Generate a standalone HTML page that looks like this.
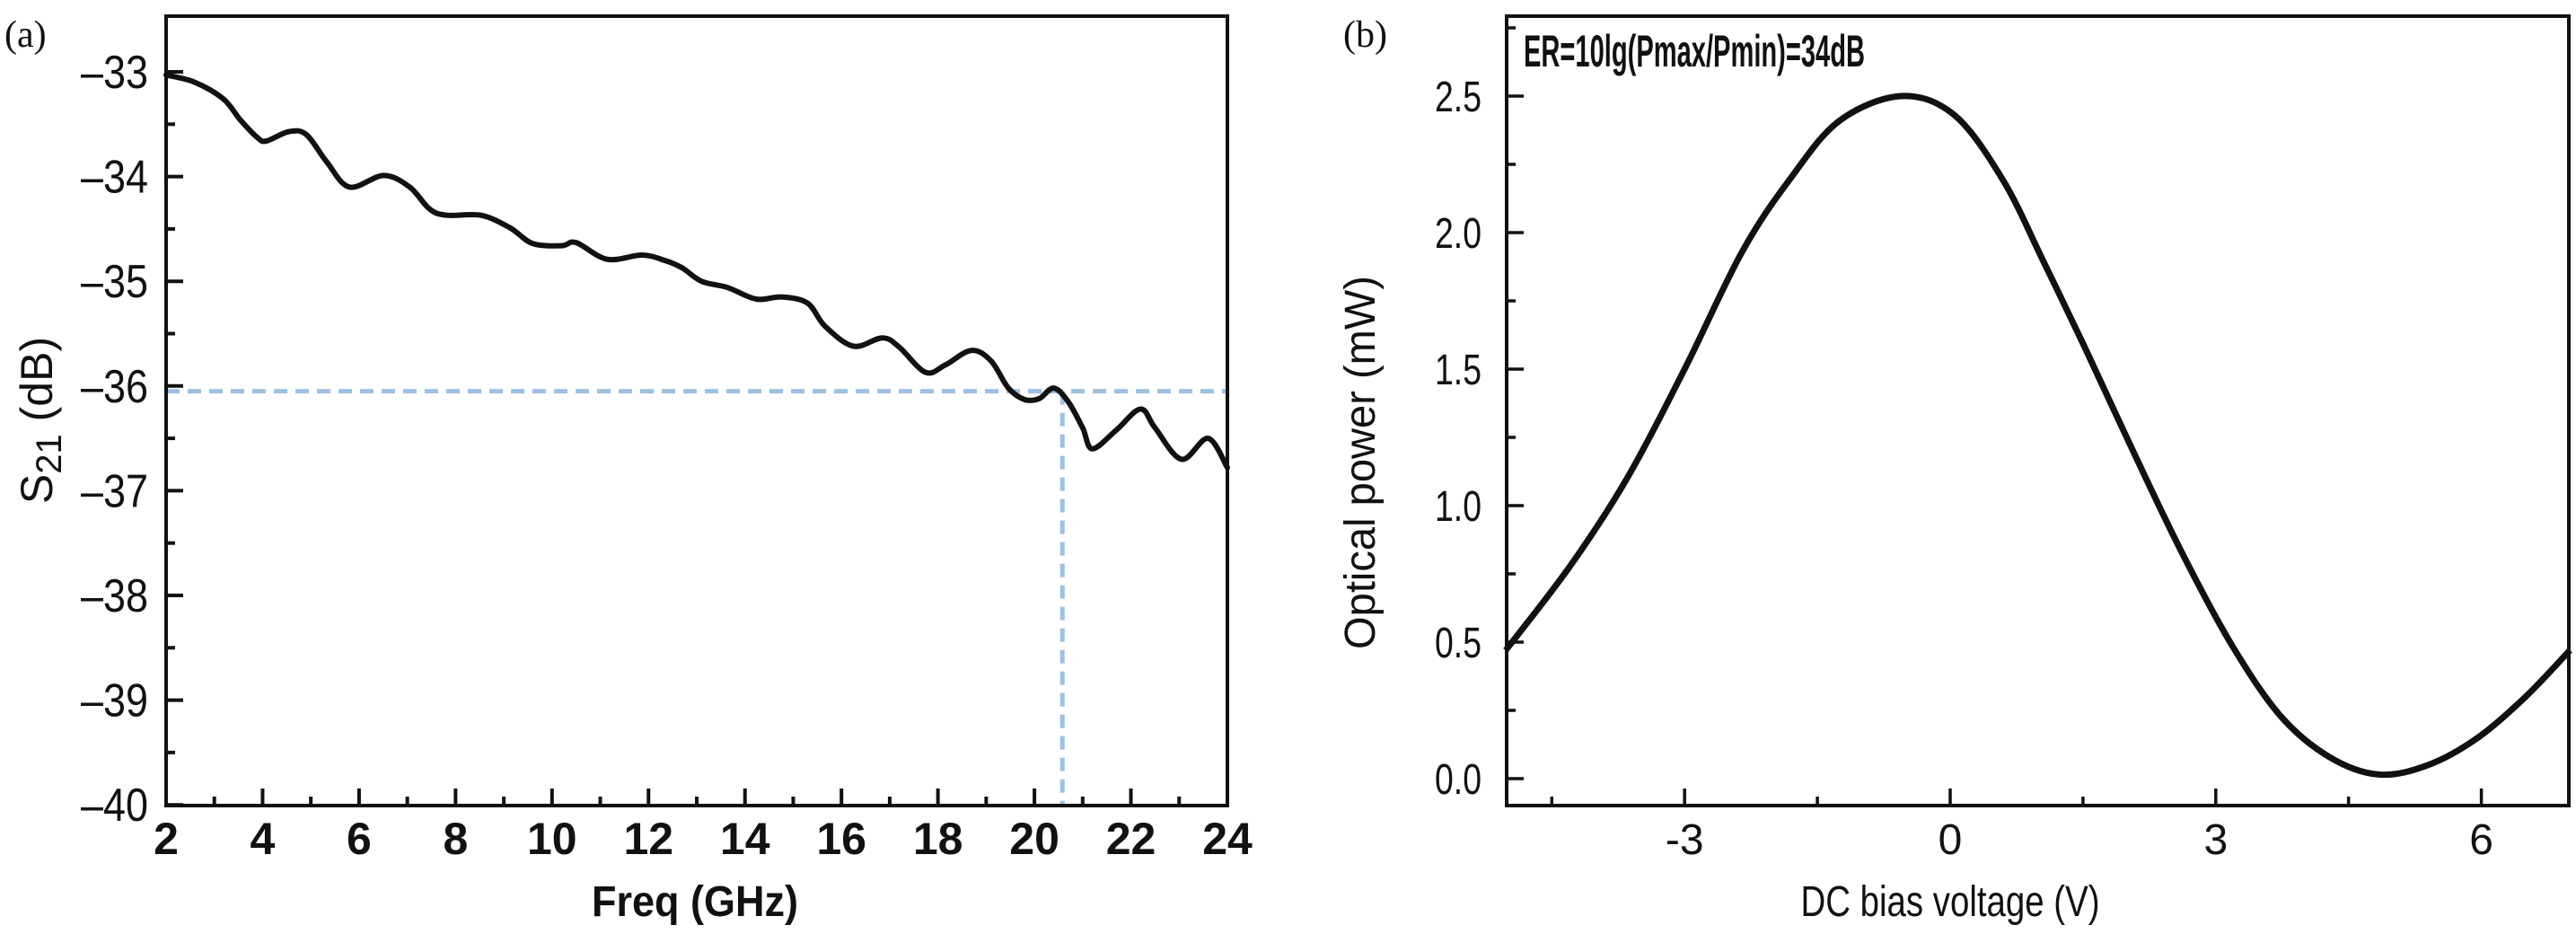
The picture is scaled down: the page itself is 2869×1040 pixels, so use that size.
<!DOCTYPE html>
<html><head><meta charset="utf-8"><style>
html,body{margin:0;padding:0;background:#fff;}
svg{display:block;}
text{font-family:"Liberation Sans",sans-serif;fill:#111;}
</style></head><body>
<svg id="fig" width="2869" height="1040" viewBox="0 0 2869 1040" xmlns="http://www.w3.org/2000/svg">
<text x="5" y="52" style="font-family:'Liberation Serif',serif;font-size:42px">(a)</text>
<text x="1496" y="52" style="font-family:'Liberation Serif',serif;font-size:42px">(b)</text>
<g id="pa"></g>
<g id="pb"></g>
</svg>
<script>
// Panel (a) data
const freqA = [2.0,2.6,3.19,3.54,3.9,4.08,4.55,4.91,5.33,5.8,6.51,7.05,7.46,7.82,8.53,9.13,9.6,10.2,10.5,11.14,11.86,12.33,12.69,13.1,13.64,14.23,14.77,15.3,15.66,16.25,16.85,17.2,17.74,18.15,18.69,19.1,19.46,19.8,20.1,20.4,20.7,21.0,21.2,21.7,22.2,22.5,23.05,23.6,24.0];
const s21A  = [-33.03,-33.1,-33.26,-33.46,-33.63,-33.66,-33.57,-33.6,-33.86,-34.1,-33.99,-34.1,-34.31,-34.37,-34.37,-34.49,-34.64,-34.66,-34.63,-34.79,-34.75,-34.8,-34.87,-35.0,-35.06,-35.17,-35.15,-35.21,-35.43,-35.62,-35.54,-35.63,-35.87,-35.8,-35.66,-35.76,-36.02,-36.13,-36.12,-36.02,-36.15,-36.4,-36.6,-36.42,-36.22,-36.4,-36.7,-36.5,-36.78];
const xTicksA = [2,4,6,8,10,12,14,16,18,20,22,24];
const yTicksA = [-33,-34,-35,-36,-37,-38,-39,-40];
const refLevelA = [-36.05];
const refFreqA = [20.58];
// Panel (b) data
const voltB = [-5.02,-4.29,-3.65,-3.0,-2.35,-1.8,-1.25,-0.55,0.05,0.6,1.06,1.52,2.08,2.63,3.18,3.73,4.28,4.84,5.4,5.96,6.5,7.0];
const powB  = [0.47,0.78,1.1,1.5,1.93,2.2,2.41,2.5,2.43,2.19,1.89,1.58,1.19,0.82,0.49,0.23,0.08,0.015,0.05,0.15,0.3,0.47];
const xTicksB = [-3,0,3,6];
const yTicksB = [0.0,0.5,1.0,1.5,2.0,2.5];

const NS="http://www.w3.org/2000/svg";
function mk(parent,tag,attrs,txt){const e=document.createElementNS(NS,tag);for(const k in attrs)e.setAttribute(k,attrs[k]);if(txt!==undefined)e.textContent=txt;parent.appendChild(e);return e;}
function smooth(P){let d='M'+P[0][0].toFixed(1)+','+P[0][1].toFixed(1);
 for(let i=0;i<P.length-1;i++){const p0=P[Math.max(0,i-1)],p1=P[i],p2=P[i+1],p3=P[Math.min(P.length-1,i+2)];
  const c1=[p1[0]+(p2[0]-p0[0])/6,p1[1]+(p2[1]-p0[1])/6],c2=[p2[0]-(p3[0]-p1[0])/6,p2[1]-(p3[1]-p1[1])/6];
  d+=' C'+c1[0].toFixed(1)+','+c1[1].toFixed(1)+' '+c2[0].toFixed(1)+','+c2[1].toFixed(1)+' '+p2[0].toFixed(1)+','+p2[1].toFixed(1);}
 return d;}

// ---- Panel A ----
const pa=document.getElementById('pa');
const A={l:185,r:1367,t:18,b:897};
const xa=v=>A.l+(v-2)/22*(A.r-A.l);
const ya=v=>80+(-33-v)*116.6;
for(let v=2;v<=24;v+=1){const maj=(v%2===0);
 const t=mk(pa,'line',{x1:xa(v),x2:xa(v),y1:A.b,y2:A.b-(maj?19:10),stroke:'#111','stroke-width':4});
 }
for(let v=-40;v<=-33;v+=0.5){const maj=Number.isInteger(v);
 const t=mk(pa,'line',{x1:A.l,x2:A.l+(maj?19:10),y1:ya(v),y2:ya(v),stroke:'#111','stroke-width':4});
 }
xTicksA.forEach(v=>{const t=mk(pa,'text',{x:xa(v),y:951,'text-anchor':'middle','font-size':50,'font-weight':'bold'},String(v));
 });
yTicksA.forEach(v=>{const t=mk(pa,'text',{x:165,y:ya(v)+18,'text-anchor':'end','font-size':52,textLength:75,lengthAdjust:'spacingAndGlyphs'},String(v).replace('-','\u2013'));
 });
let d1=mk(pa,'line',{x1:A.l,x2:A.r,y1:ya(refLevelA[0]),y2:ya(refLevelA[0]),stroke:'#9ec0e2','stroke-width':5,'stroke-dasharray':'15 9'});

let d2=mk(pa,'line',{x1:xa(refFreqA[0]),x2:xa(refFreqA[0]),y1:ya(refLevelA[0]),y2:A.b,stroke:'#9ec0e2','stroke-width':5,'stroke-dasharray':'15 9'});

let cA=mk(pa,'path',{d:smooth(freqA.map((f,i)=>[xa(f),ya(s21A[i])])),fill:'none',stroke:'#111','stroke-width':6,'stroke-linejoin':'round','stroke-linecap':'round'});

let fa=mk(pa,'rect',{x:A.l,y:A.t,width:A.r-A.l,height:A.b-A.t,fill:'none',stroke:'#111','stroke-width':4});

let xtA=mk(pa,'text',{x:774,y:1020,'text-anchor':'middle','font-size':48,'font-weight':'bold',textLength:230,lengthAdjust:'spacingAndGlyphs'},'Freq (GHz)');

let ytA=mk(pa,'text',{transform:'translate(58,468) rotate(-90)','text-anchor':'middle','font-size':50});

mk(ytA,'tspan',{},'S');mk(ytA,'tspan',{dy:10,'font-size':40},'21');mk(ytA,'tspan',{dy:-10},' (dB)');

// ---- Panel B ----
const pb=document.getElementById('pb');
const B={l:1678,r:2861,t:18,b:897};
const xb=v=>2172+v*98.6;
const yb=v=>867-v*304;
for(let v=-4.5;v<=6;v+=1.5){const maj=(Math.abs(v%3)<1e-9);
 const t=mk(pb,'line',{x1:xb(v),x2:xb(v),y1:B.b,y2:B.b-(maj?19:10),stroke:'#111','stroke-width':3.5});
 }
for(let v=0;v<=2.76;v+=0.25){const maj=(Math.abs((v*2)%1)<1e-9);
 const t=mk(pb,'line',{x1:B.l,x2:B.l+(maj?19:10),y1:yb(v),y2:yb(v),stroke:'#111','stroke-width':3.5});
 }
xTicksB.forEach(v=>{const t=mk(pb,'text',{x:xb(v),y:951,'text-anchor':'middle','font-size':48},String(v));
 });
yTicksB.forEach(v=>{const t=mk(pb,'text',{x:1650,y:yb(v)+17,'text-anchor':'end','font-size':48,textLength:52,lengthAdjust:'spacingAndGlyphs'},v.toFixed(1));
 });
let cB=mk(pb,'path',{d:smooth(voltB.map((v,i)=>[xb(v),yb(powB[i])])),fill:'none',stroke:'#111','stroke-width':7,'stroke-linejoin':'round'});

let fb=mk(pb,'rect',{x:B.l,y:B.t,width:B.r-B.l,height:B.b-B.t,fill:'none',stroke:'#111','stroke-width':4});

let er=mk(pb,'text',{x:1697,y:74,'font-size':50,'font-weight':'bold',textLength:380,lengthAdjust:'spacingAndGlyphs'},'ER=10lg(Pmax/Pmin)=34dB');

let xtB=mk(pb,'text',{x:2172,y:1020,'text-anchor':'middle','font-size':48,textLength:333,lengthAdjust:'spacingAndGlyphs'},'DC bias voltage (V)');

let ytB=mk(pb,'text',{transform:'translate(1531,515) rotate(-90)','text-anchor':'middle','font-size':48,textLength:416,lengthAdjust:'spacingAndGlyphs'},'Optical power (mW)');

</script>
</body></html>
